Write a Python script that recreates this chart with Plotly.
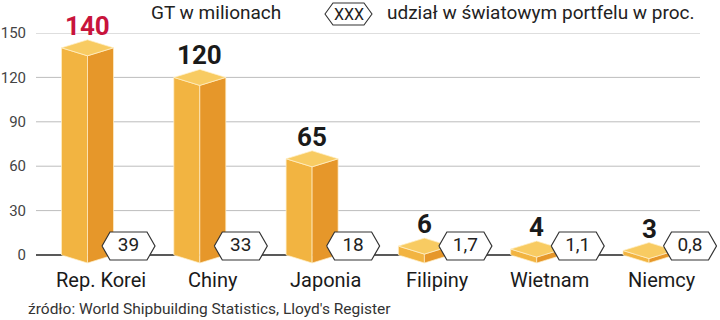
import plotly.graph_objects as go

# ---- data ----
categories = ["Rep. Korei", "Chiny", "Japonia", "Filipiny", "Wietnam", "Niemcy"]
gt_millions = [140, 120, 65, 6, 4, 3]
share_labels = ["39", "33", "18", "1,7", "1,1", "0,8"]
y_ticks = [0, 30, 60, 90, 120, 150]

# ---- geometry (pixel helpers) ----
W, H = 720, 320
L, R, T, B = 36, 0, 33, 55
X0, SX = 87.5, 112.3          # pixel of category 0 front edge, px per category
Y0, SY = 255.0, 1.48          # pixel of value 0, px per unit
xr = [(L - X0) / SX, (W - R - X0) / SX]
yr = [(Y0 - (H - B)) / SY, 150]

def dx(px):
    return px / SX

def dy(px):
    return px / SY

def paper_x(px):
    return (px - L) / (W - L - R)

def paper_y(py):
    return ((H - B) - py) / (H - T - B)

def data_to_paper_x(x):
    return (x - xr[0]) / (xr[1] - xr[0])

def data_to_paper_y(y):
    return (y - yr[0]) / (yr[1] - yr[0])

FONT = "Roboto"
C_FRONT = "#F2B441"
C_SIDE = "#E6972A"
C_TOP = "#F8CB62"
EDGE = "rgba(255,240,200,0.9)"

fig = go.Figure()

hw = dx(26)
tilt = dy(8)
for i, v in enumerate(gt_millions):
    x = i
    fig.add_trace(go.Scatter(
        x=[x - hw, x, x, x - hw, x - hw], y=[v, v - tilt, -tilt, 0, v],
        fill="toself", fillcolor=C_FRONT, mode="lines",
        line=dict(color=EDGE, width=0.8), hoverinfo="skip", showlegend=False))
    fig.add_trace(go.Scatter(
        x=[x, x + hw, x + hw, x, x], y=[v - tilt, v, 0, -tilt, v - tilt],
        fill="toself", fillcolor=C_SIDE, mode="lines",
        line=dict(color=EDGE, width=0.8), hoverinfo="skip", showlegend=False))
    fig.add_trace(go.Scatter(
        x=[x - hw, x, x + hw, x, x - hw], y=[v, v + tilt, v, v - tilt, v],
        fill="toself", fillcolor=C_TOP, mode="lines",
        line=dict(color=EDGE, width=0.8), hoverinfo="skip", showlegend=False))

# hexagon share labels
hx_off = dx(41)
hhw = dx(26.5)
hfw = dx(18.5)
hcy = dy(Y0 - 246)
hhh = dy(14)
for i, s in enumerate(share_labels):
    cx = i + hx_off
    fig.add_trace(go.Scatter(
        x=[cx - hhw, cx - hfw, cx + hfw, cx + hhw, cx + hfw, cx - hfw, cx - hhw],
        y=[hcy, hcy + hhh, hcy + hhh, hcy, hcy - hhh, hcy - hhh, hcy],
        fill="toself", fillcolor="white", mode="lines",
        line=dict(color="#333333", width=1.2), hoverinfo="skip", showlegend=False))
fig.add_trace(go.Scatter(
    x=[i + hx_off for i in range(len(share_labels))],
    y=[hcy] * len(share_labels), text=share_labels, mode="text",
    textfont=dict(family=FONT, size=19, color="#222222"),
    textposition="middle center", hoverinfo="skip", showlegend=False, cliponaxis=False))

annotations = []
# value labels
val_colors = ["#C8143C"] + ["#1a1a1a"] * (len(gt_millions) - 1)
for i, v in enumerate(gt_millions):
    annotations.append(dict(text=f"<b>{v}</b>", x=data_to_paper_x(i),
                            y=data_to_paper_y(v + dy(22)), xref="paper", yref="paper",
                            xanchor="center", yanchor="middle", showarrow=False,
                            font=dict(family=FONT, size=26, color=val_colors[i])))
# category labels
for i, c in enumerate(categories):
    annotations.append(dict(text=c, x=data_to_paper_x(i + dx(13)),
                            y=data_to_paper_y(-dy(280 - Y0)), xref="paper", yref="paper",
                            xanchor="center", yanchor="middle", showarrow=False,
                            font=dict(family=FONT, size=20, color="#1a1a1a")))

shapes = []
for t in y_ticks:
    shapes.append(dict(type="line", xref="paper", yref="y", x0=0, x1=paper_x(700), y0=t, y1=t,
                       line=dict(color="#222222" if t == 0 else "#BDBDBD", width=1.5 if t == 0 else 1),
                       layer="below"))

# legend hexagon
lx = [325, 333, 364, 372, 364, 333]
ly = [14, 3, 3, 14, 25, 25]
path = "M " + " L ".join(f"{paper_x(a):.4f},{paper_y(b):.4f}" for a, b in zip(lx, ly)) + " Z"
shapes.append(dict(type="path", xref="paper", yref="paper", path=path,
                   line=dict(color="#333333", width=1.1), fillcolor="white"))

annotations += [
    dict(text="GT w milionach", x=paper_x(216), y=paper_y(12), xref="paper", yref="paper",
         xanchor="center", yanchor="middle", showarrow=False,
         font=dict(family=FONT, size=19, color="#222222")),
    dict(text="XXX", x=paper_x(348.5), y=paper_y(14), xref="paper", yref="paper",
         xanchor="center", yanchor="middle", showarrow=False,
         font=dict(family=FONT, size=16, color="#222222")),
    dict(text="udział w światowym portfelu w proc.", x=paper_x(385), y=paper_y(12),
         xref="paper", yref="paper", xanchor="left", yanchor="middle", showarrow=False,
         font=dict(family=FONT, size=19, color="#222222")),
    dict(text="źródło: World Shipbuilding Statistics, Lloyd's Register", x=paper_x(26), y=paper_y(309),
         xref="paper", yref="paper", xanchor="left", yanchor="middle", showarrow=False,
         font=dict(family=FONT, size=15.5, color="#333333")),
]

fig.update_layout(
    width=W, height=H,
    margin=dict(l=L, r=R, t=T, b=B),
    paper_bgcolor="white", plot_bgcolor="white",
    shapes=shapes, annotations=annotations,
    xaxis=dict(range=xr, visible=False, fixedrange=True),
    yaxis=dict(range=yr, tickvals=y_ticks, showgrid=False, zeroline=False, showline=False,
               ticks="", ticklabelstandoff=9,
               tickfont=dict(family=FONT, size=15, color="#444444"), fixedrange=True),
)

fig.write_html("out.html")
